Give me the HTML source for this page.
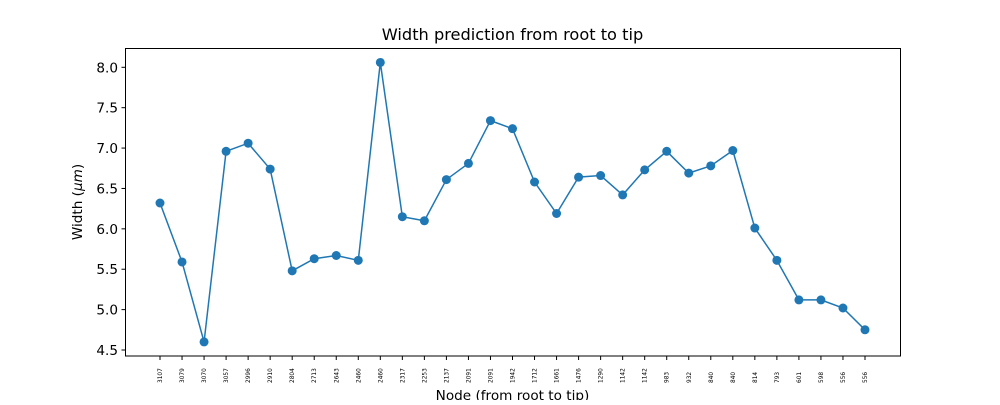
<!DOCTYPE html>
<html><head><meta charset="utf-8"><style>
body{margin:0;background:#fff;}
svg text{font-family:"DejaVu Sans","Liberation Sans",sans-serif;fill:#000;}
</style></head><body>
<svg id="chart" width="1000" height="400" xmlns="http://www.w3.org/2000/svg">
<text x="512.5" y="40" font-size="16.2" text-anchor="middle">Width prediction from root to tip</text>
<text x="512.5" y="400" font-size="13.6" text-anchor="middle">Node (from root to tip)</text>
<text transform="translate(82,202) rotate(-90)" font-size="13.6" text-anchor="middle">Width (<tspan font-style="italic">μm</tspan>)</text>
<g id="ticks"></g>
<g id="marks"></g>
<rect x="125.5" y="48.5" width="775" height="307.5" fill="none" stroke="#000" stroke-width="1"/>
</svg>
<script>
const nodeLabels=["3107","3079","3070","3057","2996","2910","2804","2713","2643","2460","2460","2317","2253","2137","2091","2091","1942","1712","1661","1476","1290","1142","1142","983","932","840","840","814","793","601","598","556","556"];
const widths=[6.32,5.59,4.60,6.96,7.06,6.74,5.48,5.63,5.67,5.61,8.06,6.15,6.10,6.61,6.81,7.34,7.24,6.58,6.19,6.64,6.66,6.42,6.73,6.96,6.69,6.78,6.97,6.01,5.61,5.12,5.12,5.02,4.75];
const yTicks=[4.5,5.0,5.5,6.0,6.5,7.0,7.5,8.0];
const NS="http://www.w3.org/2000/svg";
const n=nodeLabels.length;
function xs(i){return 160+i*(705/(n-1));}
function ys(v){return 67.3+(8-v)*(350-67.3)/3.5;}
const tg=document.getElementById('ticks'),mg=document.getElementById('marks');
function mk(tag,attrs,parent){const e=document.createElementNS(NS,tag);for(const k in attrs)e.setAttribute(k,attrs[k]);parent.appendChild(e);return e;}
yTicks.forEach(v=>{
  const l=mk('line',{x1:121.5,x2:125.5,y1:ys(v),y2:ys(v),stroke:'#000'},tg);
  
  
  const t=mk('text',{x:118,y:ys(v)+5,'font-size':13.6,'text-anchor':'end'},tg);
  t.textContent=v.toFixed(1);
  
  
});
nodeLabels.forEach((lab,i)=>{
  const x=xs(i);
  const l=mk('line',{x1:x,x2:x,y1:356,y2:360,stroke:'#000'},tg);
  
  
  const t=mk('text',{transform:`translate(${x+2},383) rotate(-90)`,'font-size':5.8,'text-anchor':'start'},tg);
  t.textContent=lab;
  
  
});
const pl=mk('polyline',{points:widths.map((v,i)=>xs(i)+','+ys(v)).join(' '),fill:'none',stroke:'#1f77b4','stroke-width':1.5},mg);


widths.forEach((v,i)=>{
  const c=mk('circle',{cx:xs(i),cy:ys(v),r:4.5,fill:'#1f77b4'},mg);
  
  
});
</script>
</body></html>
